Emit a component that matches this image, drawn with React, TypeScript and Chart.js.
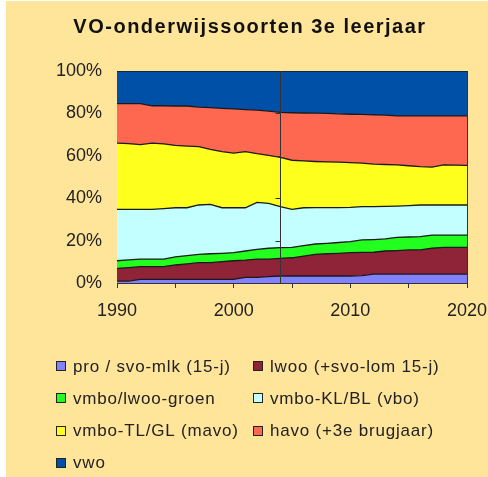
import React, { useEffect, useRef } from "react";
import { Chart, registerables } from "chart.js";

Chart.register(...registerables);

const TITLE = "VO-onderwijssoorten 3e leerjaar";

const years = [
  1990, 1991, 1992, 1993, 1994, 1995, 1996, 1997, 1998, 1999, 2000,
  2001, 2002, 2003, 2004, 2005, 2006, 2007, 2008, 2009, 2010,
  2011, 2012, 2013, 2014, 2015, 2016, 2017, 2018, 2019, 2020,
];

const pro = [
  0.9, 0.9, 1.7, 1.7, 1.7, 1.7, 1.7, 1.7, 1.7, 1.7, 1.7,
  2.7, 2.7, 3.0, 3.3, 3.3, 3.3, 3.3, 3.3, 3.3, 3.3,
  3.5, 4.2, 4.2, 4.2, 4.2, 4.2, 4.2, 4.2, 4.2, 4.2,
];
const lwoo = [
  6.0, 6.4, 6.0, 6.0, 6.0, 6.8, 7.3, 7.9, 7.9, 8.4, 8.8,
  8.1, 8.6, 8.3, 8.3, 8.6, 9.4, 10.2, 10.5, 10.7, 11.0,
  10.9, 10.3, 10.9, 11.1, 11.4, 11.4, 12.2, 12.6, 12.6, 12.6,
];
const groen = [
  3.6, 3.6, 3.6, 3.6, 3.6, 3.8, 3.9, 3.9, 4.2, 3.9, 3.8,
  4.3, 4.6, 5.1, 5.1, 4.9, 4.9, 4.9, 4.9, 5.1, 5.2,
  5.9, 6.0, 5.7, 6.2, 6.1, 6.3, 6.2, 5.8, 5.8, 5.8,
];
const klbl = [
  24.2, 23.8, 23.4, 23.4, 23.8, 23.2, 22.6, 23.3, 23.3, 21.5, 21.2,
  20.4, 22.1, 21.2, 19.3, 17.9, 17.9, 17.2, 16.9, 16.5, 16.2,
  15.7, 15.5, 15.3, 14.8, 14.8, 14.9, 14.2, 14.2, 14.2, 14.2,
];
const tlgl = [
  31.3, 31.0, 30.6, 31.3, 30.5, 29.4, 29.1, 27.5, 25.9, 26.5, 25.8,
  26.5, 23.0, 22.6, 23.3, 23.2, 22.1, 21.7, 21.5, 21.4, 21.1,
  20.5, 20.1, 19.8, 19.4, 18.8, 18.1, 17.9, 18.9, 18.8, 18.7,
];
const havo = [
  18.6, 18.9, 19.3, 17.6, 18.0, 18.6, 18.9, 18.7, 19.7, 20.4, 20.8,
  19.8, 20.5, 20.9, 21.2, 22.4, 22.6, 22.8, 22.9, 22.8, 22.8,
  23.0, 23.2, 23.3, 23.1, 23.5, 23.9, 24.1, 23.1, 23.2, 23.3,
];
const vwo = [
  15.4, 15.4, 15.4, 16.4, 16.4, 16.5, 16.5, 17.0, 17.3, 17.6, 17.9,
  18.2, 18.5, 18.9, 19.5, 19.7, 19.8, 19.9, 20.0, 20.2, 20.4,
  20.5, 20.7, 20.8, 21.2, 21.2, 21.2, 21.2, 21.2, 21.2, 21.2,
];

const seriesLabels = [
  "pro / svo-mlk (15-j)",
  "lwoo (+svo-lom 15-j)",
  "vmbo/lwoo-groen",
  "vmbo-KL/BL (vbo)",
  "vmbo-TL/GL (mavo)",
  "havo (+3e brugjaar)",
  "vwo",
];
const seriesValues = [pro, lwoo, groen, klbl, tlgl, havo, vwo];
const seriesColors = [
  "#8282FF",
  "#8F2338",
  "#22FF1E",
  "#C4FFFF",
  "#FFFF1E",
  "#FF6850",
  "#0050A8",
];

const yTicks = [0, 20, 40, 60, 80, 100];
const MARKER_YEAR = 2004;
const markerTicks = [20, 40, 60, 80];

const BG = "#FFE59A";
const FONT = "'Liberation Sans', Arial, sans-serif";
const TEXT = "#222222";

const overlay = {
  id: "overlay",
  afterDatasetsDraw(chart: any) {
    const { ctx, chartArea: a, scales } = chart;
    const x = scales.x;
    const y = scales.y;
    ctx.save();
    ctx.strokeStyle = "#333333";
    ctx.lineWidth = 1;
    ctx.beginPath();
    const rx = Math.round(a.right) + 0.5;
    ctx.moveTo(rx, a.top);
    ctx.lineTo(rx, a.bottom);
    const vx = Math.round(x.getPixelForValue(MARKER_YEAR)) + 0.5;
    ctx.moveTo(vx, a.top);
    ctx.lineTo(vx, a.bottom);
    for (const t of markerTicks) {
      const py = Math.round(y.getPixelForValue(t)) + 0.5;
      ctx.moveTo(vx - 5, py);
      ctx.lineTo(vx, py);
    }
    ctx.stroke();
    ctx.restore();
  },
  afterDraw(chart: any) {
    const { ctx } = chart;
    ctx.save();
    ctx.fillStyle = "#111111";
    ctx.font = `bold 20px ${FONT}`;
    (ctx as any).letterSpacing = "1.5px";
    ctx.textAlign = "center";
    ctx.textBaseline = "middle";
    ctx.fillText(TITLE, 244, 26);
    (ctx as any).letterSpacing = "0.8px";
    ctx.font = `17px ${FONT}`;
    ctx.textAlign = "left";
    const colX = [50, 247];
    const rowY = [365, 397, 429.5, 461.5];
    chart.data.datasets.forEach((ds: any, i: number) => {
      const cx = colX[i % 2];
      const cy = rowY[Math.floor(i / 2)];
      ctx.fillStyle = ds.backgroundColor;
      ctx.fillRect(cx, Math.round(cy - 5), 10, 10);
      ctx.strokeStyle = "#222222";
      ctx.lineWidth = 1;
      ctx.strokeRect(cx + 0.5, Math.round(cy - 5) + 0.5, 9, 9);
      ctx.fillStyle = TEXT;
      ctx.fillText(ds.label, cx + 17, cy + 1);
    });
    ctx.restore();
  },
};

export default function App() {
  const ref = useRef<HTMLCanvasElement | null>(null);

  useEffect(() => {
    if (!ref.current) return;
    const chart = new Chart(ref.current, {
      type: "line",
      data: {
        labels: years,
        datasets: seriesValues.map((vals, i) => ({
          label: seriesLabels[i],
          data: vals,
          backgroundColor: seriesColors[i],
          borderColor: "#1A1A1A",
          borderWidth: 1.3,
          fill: i === 0 ? "origin" : "-1",
          pointRadius: 0,
          tension: 0,
        })),
      },
      options: {
        animation: false,
        responsive: false,
        maintainAspectRatio: false,
        events: [],
        layout: { padding: { top: 70, right: 21, left: 0, bottom: 0 } },
        plugins: {
          legend: { display: false },
          title: { display: false },
          tooltip: { enabled: false },
        },
        scales: {
          x: {
            type: "linear",
            min: 1990,
            max: 2020,
            afterFit: (s: any) => {
              s.height = 194;
              s.paddingRight = 0;
              s.paddingLeft = 0;
            },
            ticks: {
              stepSize: 5,
              autoSkip: false,
              maxRotation: 0,
              padding: 12,
              color: TEXT,
              font: { family: FONT, size: 18 },
              callback: (v: any) => (Number(v) % 10 === 0 ? String(v) : ""),
            },
            grid: {
              drawOnChartArea: false,
              tickLength: 5,
              color: "#333333",
            },
            border: { color: "#333333", width: 1 },
          },
          y: {
            stacked: true,
            min: 0,
            max: 100,
            afterFit: (s: any) => {
              s.width = 111;
            },
            afterBuildTicks: (s: any) => {
              s.ticks = yTicks.map((v) => ({ value: v }));
            },
            ticks: {
              padding: 15,
              color: TEXT,
              font: { family: FONT, size: 18 },
              callback: (v: any) => `${v}%`,
            },
            grid: { drawOnChartArea: false, drawTicks: false },
            border: { color: "#333333", width: 1 },
          },
        },
      },
      plugins: [overlay],
    });
    return () => chart.destroy();
  }, []);

  return (
    <div
      style={{
        position: "absolute",
        left: 6,
        top: 1,
        width: 482,
        height: 476,
        background: BG,
      }}
    >
      <canvas ref={ref} width={482} height={476} style={{ display: "block" }} />
    </div>
  );
}
